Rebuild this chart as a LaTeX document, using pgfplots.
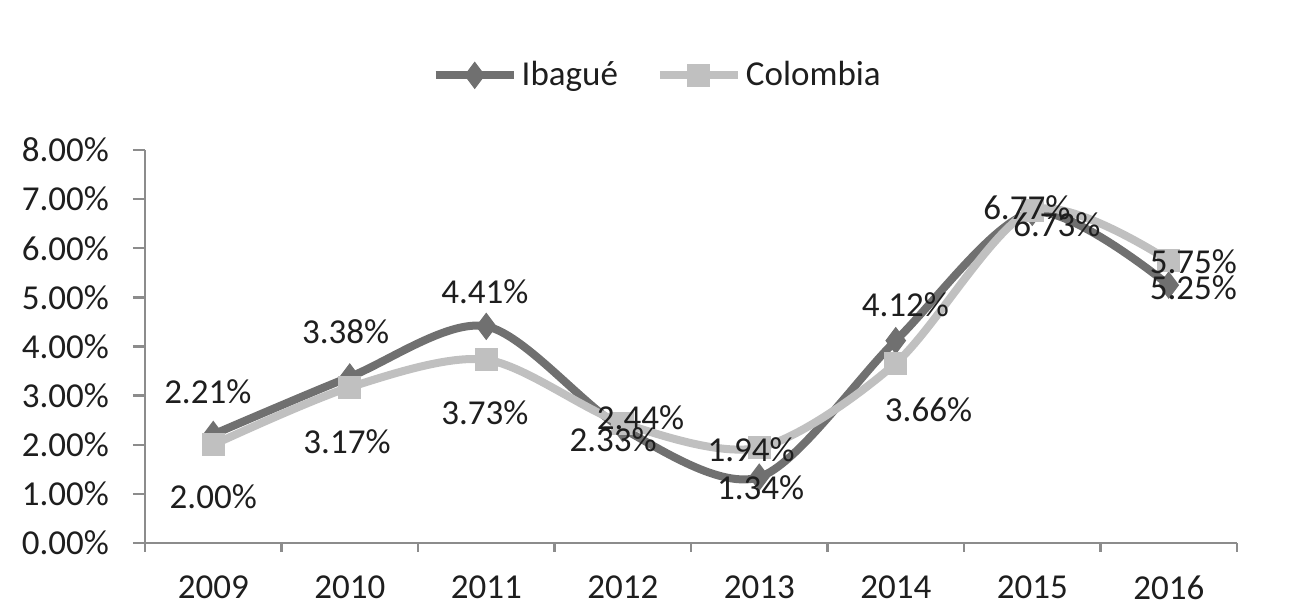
\documentclass[border=0pt]{standalone}
\usepackage{fontspec}
\setmainfont{Carlito}
\usepackage{pgfplots}
\pgfplotsset{compat=1.18}
\definecolor{ibague}{RGB}{112,112,112}
\definecolor{colombia}{RGB}{192,192,192}
\definecolor{axisgray}{RGB}{140,140,140}
\definecolor{txt}{RGB}{30,30,30}
\begin{document}
\begin{tikzpicture}[font=\fontsize{17.5}{21}\selectfont, text=txt]
\begin{axis}[
  at={(0,0)}, anchor=south west,
  scale only axis, width=546pt, height=196.5pt,
  xmin=-0.5, xmax=7.5, ymin=0, ymax=8,
  axis lines=left,
  axis line style={-, draw=axisgray, line width=1.2pt},
  tick align=outside,
  tick style={draw=axisgray, line width=1.2pt},
  xtick={0,...,7},
  xticklabels={2009,2010,2011,2012,2013,2014,2015,2016},
  xticklabel style={yshift=-7pt},
  major x tick style={draw=none},
  minor xtick={-0.5,0.5,...,7.5},
  minor tick length=4.5pt,
  major tick length=6pt,
  ytick={0,...,8},
  yticklabels={0.00\%,1.00\%,2.00\%,3.00\%,4.00\%,5.00\%,6.00\%,7.00\%,8.00\%},
  yticklabel style={xshift=-8.5pt},
  legend style={at={(0.47,1.19)}, anchor=center, draw=none, fill=none,
    legend columns=2, font=\fontsize{17.5}{21}\selectfont,
    /tikz/every even column/.append style={column sep=17pt}},
  legend image code/.code={\draw[#1, mark repeat=2, mark phase=2] plot coordinates {(0pt,0pt) (19.5pt,0pt) (39pt,0pt)};},
]
\addplot[ibague, line width=4pt, smooth, tension=0.5, mark=diamond*, mark size=6.5pt,
  mark options={solid, fill=ibague, draw=ibague, line width=0.5pt}]
  coordinates {(0,2.21)(1,3.38)(2,4.41)(3,2.33)(4,1.34)(5,4.12)(6,6.73)(7,5.25)};
\addlegendentry{Ibagué}
\addplot[colombia, line width=4pt, smooth, tension=0.5, mark=square*, mark size=5.5pt,
  mark options={solid, fill=colombia, draw=colombia, line width=0.5pt}]
  coordinates {(0,2.00)(1,3.17)(2,3.73)(3,2.44)(4,1.94)(5,3.66)(6,6.77)(7,5.75)};
\addlegendentry{Colombia}
\coordinate (a1) at (axis cs:-0.04,3.08);
\coordinate (b1) at (axis cs:0,0.94);
\coordinate (a2) at (axis cs:0.97,4.30);
\coordinate (b2) at (axis cs:0.98,2.06);
\coordinate (a3) at (axis cs:1.99,5.11);
\coordinate (b3) at (axis cs:1.99,2.65);
\coordinate (b4) at (axis cs:3.13,2.55);
\coordinate (a4) at (axis cs:2.93,2.10);
\coordinate (b5) at (axis cs:3.94,1.89);
\coordinate (a5) at (axis cs:4.01,1.12);
\coordinate (a6) at (axis cs:5.07,4.85);
\coordinate (b6) at (axis cs:5.24,2.71);
\coordinate (b7) at (axis cs:5.96,6.82);
\coordinate (a7) at (axis cs:6.18,6.48);
\coordinate (b8) at (axis cs:7.18,5.72);
\coordinate (a8) at (axis cs:7.18,5.19);
\end{axis}
\node at (a1) {2.21\%};
\node at (b1) {2.00\%};
\node at (a2) {3.38\%};
\node at (b2) {3.17\%};
\node at (a3) {4.41\%};
\node at (b3) {3.73\%};
\node at (b4) {2.44\%};
\node at (a4) {2.33\%};
\node at (b5) {1.94\%};
\node at (a5) {1.34\%};
\node at (a6) {4.12\%};
\node at (b6) {3.66\%};
\node at (b7) {6.77\%};
\node at (a7) {6.73\%};
\node at (b8) {5.75\%};
\node at (a8) {5.25\%};
\path (-72.5pt,-35pt) rectangle (576.5pt,271.5pt);
\end{tikzpicture}
\end{document}
